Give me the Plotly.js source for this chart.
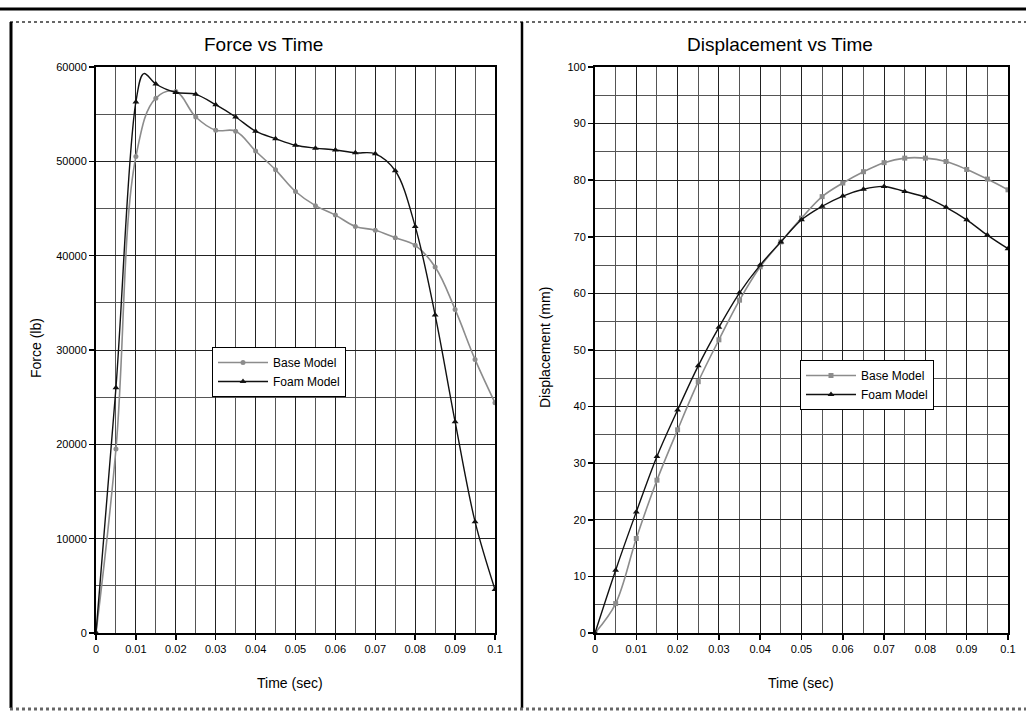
<!DOCTYPE html>
<html><head><meta charset="utf-8">
<script src="https://cdn.plot.ly/plotly-3.0.1.min.js"></script>
<style>html,body{margin:0;padding:0;background:#fff}#chart{width:1026px;height:717px}</style>
</head><body><div id="chart"></div>
<script>
// ---- data ----
const time = [0,0.005,0.01,0.015,0.02,0.025,0.03,0.035,0.04,0.045,0.05,0.055,0.06,0.065,0.07,0.075,0.08,0.085,0.09,0.095,0.1];
const forceBase = [0,19500,50500,56700,57400,54700,53300,53200,51100,49100,46800,45300,44300,43100,42700,41900,41100,38800,34300,29000,24400];
const forceFoam = [0,26000,56300,58200,57300,57100,56000,54700,53200,52400,51700,51400,51200,50900,50800,49000,43100,33700,22400,11800,4600];
// peak of the Foam force curve between markers
const foamPeakTime = 0.012;
const foamPeakForce = 59300;
const dispBase = [0,5.2,16.7,27.0,35.9,44.4,51.8,58.8,64.7,69.1,73.3,77.1,79.5,81.5,83.1,83.9,83.9,83.3,81.9,80.2,78.3];
const dispFoam = [0,11.1,21.4,31.2,39.4,47.2,54.0,60.1,65.0,69.1,73.0,75.4,77.2,78.4,78.9,78.0,77.0,75.2,73.0,70.3,67.9];
const seriesNames = ['Base Model','Foam Model'];
const titles = ['Force vs Time','Displacement vs Time'];
const xTitle = 'Time (sec)';
const yTitles = ['Force (lb)','Displacement (mm)'];

// ---- layout helpers (pixel -> paper) ----
const W = 1026, H = 717;
const px = x => x / W;
const py = y => 1 - y / H;
const GRAY = '#8c8c8c', BLACK = '#111';
const font = 'Liberation Sans, Arial, sans-serif';

// foam force curve passes through the read peak; that point gets no visible marker
const ip = time.findIndex(t => t > foamPeakTime);
const foamT = time.slice(0, ip).concat([foamPeakTime], time.slice(ip));
const foamF = forceFoam.slice(0, ip).concat([foamPeakForce], forceFoam.slice(ip));
const foamOpacity = foamT.map(t => (t === foamPeakTime ? 0 : 1));

const traces = [
  {x: time, y: forceBase, name: seriesNames[0], xaxis: 'x', yaxis: 'y', legend: 'legend',
   mode: 'lines+markers', line: {color: GRAY, width: 1.6, shape: 'spline', smoothing: 1.1},
   marker: {symbol: 'circle', size: 5, color: GRAY}},
  {x: foamT, y: foamF, name: seriesNames[1], xaxis: 'x', yaxis: 'y', legend: 'legend',
   mode: 'lines+markers', line: {color: BLACK, width: 1.4, shape: 'spline', smoothing: 1},
   marker: {symbol: 'triangle-up', size: 6, color: BLACK, opacity: foamOpacity}},
  {x: time, y: dispBase, name: seriesNames[0], xaxis: 'x2', yaxis: 'y2', legend: 'legend2',
   mode: 'lines+markers', line: {color: GRAY, width: 1.6, shape: 'spline', smoothing: 1},
   marker: {symbol: 'square', size: 5, color: GRAY}},
  {x: time, y: dispFoam, name: seriesNames[1], xaxis: 'x2', yaxis: 'y2', legend: 'legend2',
   mode: 'lines+markers', line: {color: BLACK, width: 1.4, shape: 'spline', smoothing: 1},
   marker: {symbol: 'triangle-up', size: 6, color: BLACK}}
];

function xAxis(domain, anchor) {
  return {domain, anchor, range: [0, 0.1], dtick: 0.01, tick0: 0,
    showline: true, mirror: true, linecolor: '#000', linewidth: 2,
    ticks: 'outside', ticklen: 5, tickcolor: '#000', tickwidth: 1.5,
    showgrid: true, gridcolor: '#222', gridwidth: 1, zeroline: false,
    minor: {dtick: 0.005, tick0: 0, showgrid: true, gridcolor: '#555', gridwidth: 1, ticks: ''},
    tickfont: {family: font, size: 11, color: '#000'}, fixedrange: true};
}
function yAxis(domain, anchor, max, major, minor, fmt) {
  return {domain, anchor, range: [0, max], dtick: major, tick0: 0, tickformat: fmt,
    showline: true, mirror: true, linecolor: '#000', linewidth: 2,
    ticks: 'outside', ticklen: 5, tickcolor: '#000', tickwidth: 1.5,
    showgrid: true, gridcolor: '#222', gridwidth: 1, zeroline: false,
    minor: {dtick: minor, tick0: 0, showgrid: true, gridcolor: '#555', gridwidth: 1, ticks: ''},
    tickfont: {family: font, size: 11, color: '#000'}, fixedrange: true};
}

const yDom = [py(633), py(67)];
const legendStyle = {bgcolor: '#fff', bordercolor: '#000', borderwidth: 1,
  font: {family: font, size: 12, color: '#000'}, xanchor: 'left', yanchor: 'top',
  tracegroupgap: 0, itemwidth: 50};

function note(text, x, y, size, angle) {
  return {text, x: px(x), y: py(y), xref: 'paper', yref: 'paper', showarrow: false,
    xanchor: 'center', yanchor: 'middle', textangle: angle || 0, font: {size}};
}

const layout = {
  width: W, height: H, margin: {l: 0, r: 0, t: 0, b: 0},
  paper_bgcolor: '#fff', plot_bgcolor: '#fff', showlegend: true,
  font: {family: font, color: '#000'},
  xaxis: xAxis([px(96), px(495)], 'y'),
  yaxis: yAxis(yDom, 'x', 60000, 10000, 5000, 'd'),
  xaxis2: xAxis([px(595), px(1008)], 'y2'),
  yaxis2: yAxis(yDom, 'x2', 100, 10, 5, 'd'),
  legend: Object.assign({x: px(212), y: py(347)}, legendStyle),
  legend2: Object.assign({x: px(800), y: py(360)}, legendStyle),
  annotations: [
    note(titles[0], 263, 44, 19),
    note(titles[1], 780, 44, 19),
    note(xTitle, 290, 683, 14),
    note(xTitle, 801, 683, 14),
    note(yTitles[0], 36, 348, 14, -90),
    note(yTitles[1], 545, 348, 14, -90)
  ],
  shapes: [
    {type: 'line', xref: 'paper', yref: 'paper', x0: 0, x1: 1, y0: py(9), y1: py(9), line: {color: '#000', width: 3}},
    {type: 'line', xref: 'paper', yref: 'paper', x0: px(10), x1: 1, y0: py(22), y1: py(22), line: {color: '#666', width: 2, dash: 'dot'}},
    {type: 'line', xref: 'paper', yref: 'paper', x0: px(11), x1: px(11), y0: py(22), y1: py(708), line: {color: '#000', width: 3}},
    {type: 'line', xref: 'paper', yref: 'paper', x0: px(522), x1: px(522), y0: py(22), y1: py(708), line: {color: '#000', width: 2.5}},
    {type: 'line', xref: 'paper', yref: 'paper', x0: px(10), x1: 1, y0: py(709), y1: py(709), line: {color: '#666', width: 3, dash: 'dot'}}
  ]
};

Plotly.newPlot('chart', traces, layout, {staticPlot: true, displayModeBar: false});
</script>
</body></html>
